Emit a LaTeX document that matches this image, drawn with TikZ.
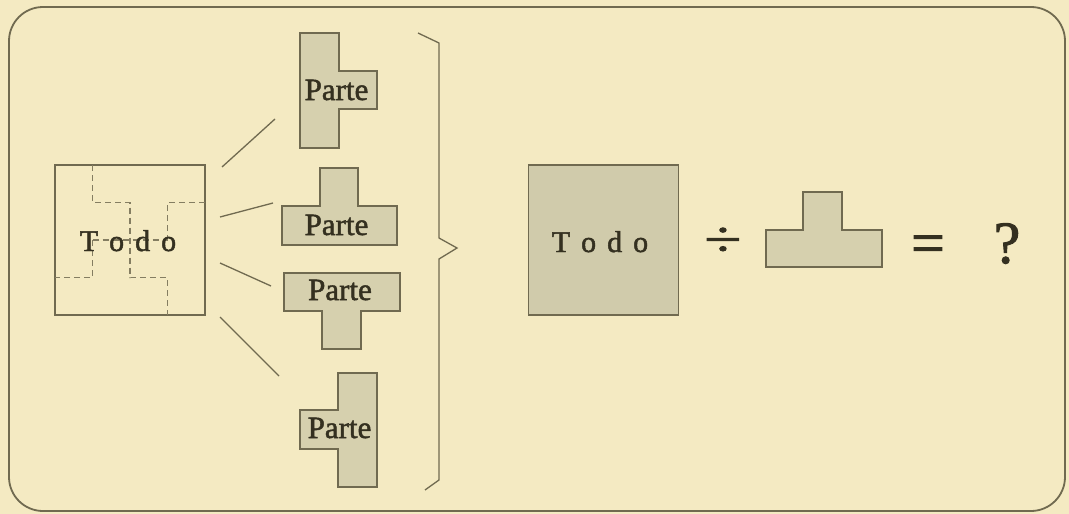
\documentclass[tikz,border=0pt]{standalone}
\usepackage{fontspec}
\setmainfont{Liberation Serif}
\newfontfamily\heavy[FakeBold=1.6]{Liberation Serif}
\definecolor{bgc}{RGB}{244,234,194}
\definecolor{piecec}{RGB}{214,208,174}
\definecolor{bigc}{RGB}{208,203,171}
\definecolor{linec}{RGB}{112,106,80}
\definecolor{textc}{RGB}{52,48,32}
\begin{document}
\begin{tikzpicture}[x=1pt,y=-1pt,
  line/.style={draw=linec, line width=1.3pt},
  piece/.style={draw=linec, fill=piecec, line width=1.3pt, line join=miter},
  cut/.style={draw=linec!85!bgc, line width=1.1pt, dash pattern=on 6pt off 4pt},
  lbl/.style={font=\heavy\fontsize{31}{31}\selectfont, text=textc, inner sep=0pt, anchor=base},
  todo/.style={font=\heavy\fontsize{30}{30}\selectfont, text=textc, inner sep=0pt, anchor=base},
  sym/.style={font=\heavy\fontsize{60}{60}\selectfont, text=textc, inner sep=0pt, anchor=base}]
\useasboundingbox (0,0) rectangle (1069,514);
\fill[bgc] (0,0) rectangle (1069,514);
\draw[line, line width=1.8pt, rounded corners=34pt] (9,7) rectangle (1065,511);

% left whole
\node[draw=linec, line width=1.3pt, minimum size=150pt, inner sep=0pt] (todoL) at (130,240) {};
\draw[cut] (92.5,165) -- (92.5,202.5) -- (130,202.5) -- (130,277.5) -- (167.5,277.5) -- (167.5,315);
\draw[cut] (205,202.5) -- (167.5,202.5) -- (167.5,240);
\draw[cut] (92.5,240) -- (167.5,240);
\draw[cut] (92.5,240) -- (92.5,277.5) -- (55,277.5);
\node[todo] (todoLt) at (128,251) {T\kern11pt o\kern11pt d\kern11pt o};

% parts
\draw[piece] (300,33) -- (339,33) -- (339,71) -- (377,71) -- (377,109) -- (339,109) -- (339,148) -- (300,148) -- cycle;
\node[lbl] (p1) at (336.5,100) {Parte};
\draw[piece] (282,206) -- (320,206) -- (320,168) -- (358,168) -- (358,206) -- (397,206) -- (397,245) -- (282,245) -- cycle;
\node[lbl] (p2) at (336.5,235) {Parte};
\draw[piece] (284,273) -- (400,273) -- (400,311) -- (361,311) -- (361,349) -- (322,349) -- (322,311) -- (284,311) -- cycle;
\node[lbl] (p3) at (340,300) {Parte};
\draw[piece] (338,373) -- (377,373) -- (377,487) -- (338,487) -- (338,449) -- (300,449) -- (300,410) -- (338,410) -- cycle;
\node[lbl] (p4) at (339.5,438) {Parte};

% connectors
\coordinate (a1) at (222,167); \coordinate (b1) at (275,119);
\coordinate (a2) at (220,217); \coordinate (b2) at (273,203);
\coordinate (a3) at (220,263); \coordinate (b3) at (271,286);
\coordinate (a4) at (220,317); \coordinate (b4) at (279,376);
\draw[line] (a1) -- (b1);
\draw[line] (a2) -- (b2);
\draw[line] (a3) -- (b3);
\draw[line] (a4) -- (b4);

% brace
\coordinate (br1) at (418,33);
\coordinate (br2) at (425,490);
\draw[line, line join=miter] (br1) -- (439,43) -- (439,238) -- (457,248) -- (439,259) -- (439,480) -- (br2);

% right equation
\node[draw=linec, fill=bigc, line width=1.3pt, minimum size=150pt, inner sep=0pt] (todoR) at (603.5,240) {};
\node[todo] (todoRt) at (600,252) {T\kern11pt o\kern11pt d\kern11pt o};
\node[sym, font=\heavy\fontsize{50}{50}\selectfont] (div) at (723,256) {\scalebox{1.35}[1]{÷}};
\draw[piece] (766,230) -- (803,230) -- (803,192) -- (842,192) -- (842,230) -- (882,230) -- (882,267) -- (766,267) -- cycle;
\node[sym] (eq) at (928,263) {=};
\node[sym] (q) at (1007,263) {?};
\end{tikzpicture}
\end{document}
